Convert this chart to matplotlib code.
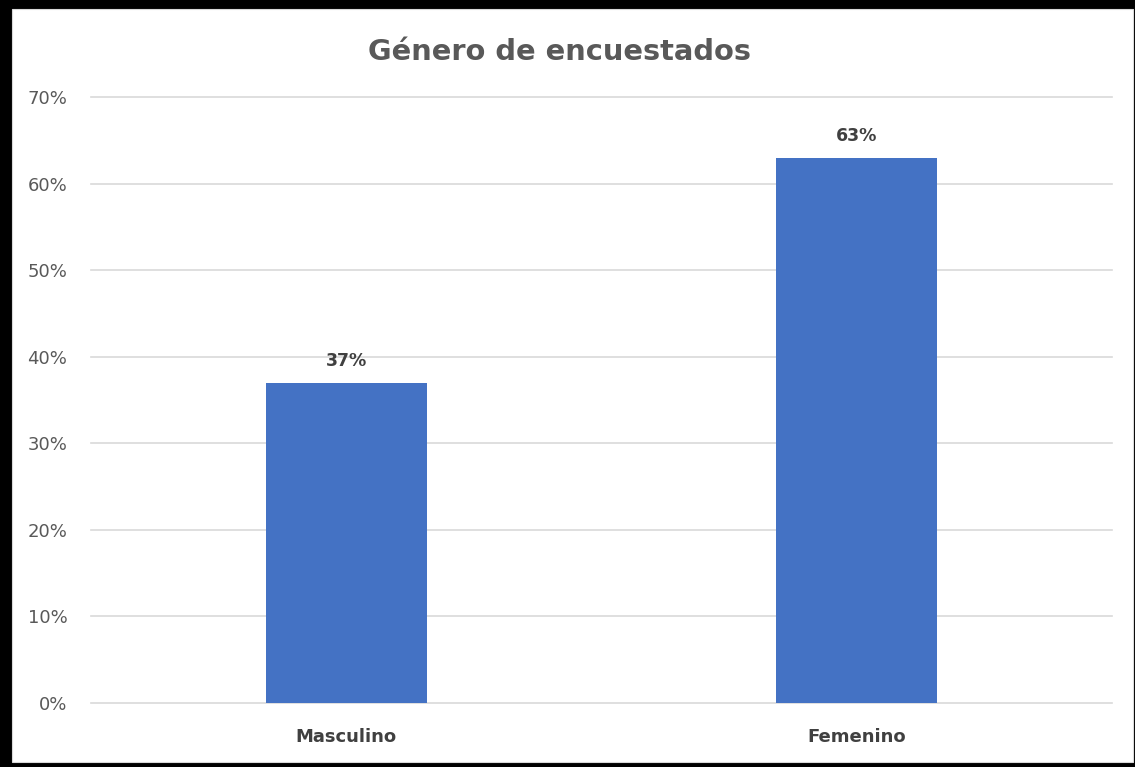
import matplotlib
matplotlib.use("Agg")
import matplotlib.pyplot as plt
from matplotlib.patches import Rectangle
from matplotlib.ticker import FuncFormatter

categories = ["Masculino", "Femenino"]
values = [37, 63]
title = "Género de encuestados"

plt.rcParams['font.family'] = ['DejaVu Sans']

W, H = 1135, 767
fig = plt.figure(figsize=(W / 100, H / 100), dpi=100)
fig.patch.set_facecolor("black")
fig.add_artist(Rectangle((12 / W, 5 / H), (1133 - 12) / W, (762 - 9) / H,
                         transform=fig.transFigure, facecolor="white",
                         edgecolor="#D9D9D9", linewidth=0.8, zorder=0))

ax = fig.add_axes([91 / W, (H - 703) / H, (1112 - 91) / W, (703 - 97) / H])
ax.set_facecolor("none")
x = list(range(len(categories)))
ax.bar(x, values, width=0.315, color="#4472C4", zorder=3)
ax.set_xlim(-0.5, len(categories) - 0.5)
ax.set_ylim(0, 70)
ax.set_yticks(range(0, 71, 10))
ax.yaxis.set_major_formatter(FuncFormatter(lambda v, p: f"{int(v)}%"))
for yv in range(0, 71, 10):
    ax.axhline(yv, color="#D9D9D9", linewidth=1.2, zorder=0, clip_on=False)
for s in ax.spines.values():
    s.set_visible(False)
ax.tick_params(axis="y", length=0, pad=17, labelsize=13, labelcolor="#595959")
ax.tick_params(axis="x", length=0, pad=18, labelsize=13)
ax.set_xticks(x)
ax.set_xticklabels(categories, fontweight="bold", color="#404040")

for xi, v in zip(x, values):
    ax.annotate(f"{v}%", (xi, v), xytext=(0, 9), textcoords="offset points",
                ha="center", va="bottom", fontsize=12.5, fontweight="bold",
                color="#404040")

fig.text(560 / W, (H - 60) / H, title, ha="center", va="baseline",
         fontsize=20.8, fontweight="bold", color="#595959")

fig.savefig("out.png", dpi=100, facecolor=fig.get_facecolor())
